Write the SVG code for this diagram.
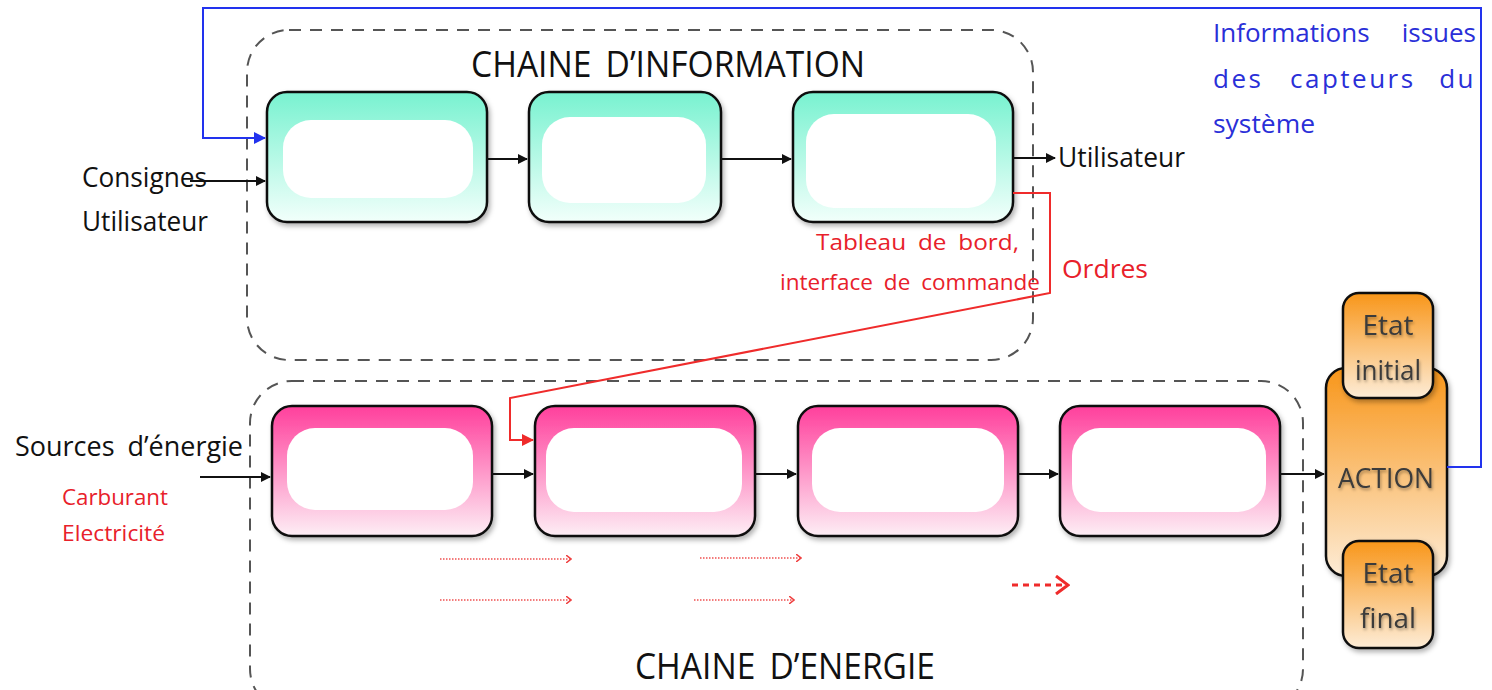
<svg xmlns="http://www.w3.org/2000/svg" width="1492" height="690" viewBox="0 0 1492 690">
  <style>
    text { font-family: "Open Sans", "Noto Sans", "DejaVu Sans", sans-serif; }
    .lbl { fill: #111; font-size: 27px; }
    .red { fill: #e8202a; }
    .blue { fill: #2a2fd8; font-size: 26px; }
    .title { fill: #111; font-size: 37px; word-spacing: 6px; }
    .frame { fill: none; stroke: #555; stroke-width: 2; stroke-dasharray: 12 9; }
    .box { stroke: #111; stroke-width: 2.5; }
    .inner { fill: #fff; }
    .link { fill: none; stroke: #111; stroke-width: 2; }
    .state { fill: #3a3a3a; font-size: 28px; text-anchor: middle; }
  </style>
  <defs>
    <linearGradient id="gInfo" x1="0" y1="0" x2="0" y2="1">
      <stop offset="0" stop-color="#78f2d0"/>
      <stop offset="1" stop-color="#f2fffb"/>
    </linearGradient>
    <linearGradient id="gEnergy" x1="0" y1="0" x2="0" y2="1">
      <stop offset="0" stop-color="#ff3f9c"/>
      <stop offset="1" stop-color="#fdeef5"/>
    </linearGradient>
    <linearGradient id="gAction" x1="0" y1="0" x2="0" y2="1">
      <stop offset="0" stop-color="#f8961a"/>
      <stop offset="1" stop-color="#fdecd6"/>
    </linearGradient>
    <filter id="shadow" x="-10%" y="-10%" width="130%" height="130%">
      <feDropShadow dx="2" dy="3" stdDeviation="2.5" flood-color="#000" flood-opacity="0.3"/>
    </filter>
    <filter id="tshadow" x="-10%" y="-20%" width="130%" height="150%">
      <feDropShadow dx="1" dy="2" stdDeviation="1.5" flood-color="#000" flood-opacity="0.35"/>
    </filter>
    <marker id="arrK" markerWidth="10" markerHeight="10" refX="9" refY="5" orient="auto" markerUnits="userSpaceOnUse">
      <path d="M0,0 L10,5 L0,10 z" fill="#111"/>
    </marker>
    <marker id="arrB" markerWidth="12" markerHeight="12" refX="11" refY="6" orient="auto" markerUnits="userSpaceOnUse">
      <path d="M0,0 L12,6 L0,12 z" fill="#2233ee"/>
    </marker>
    <marker id="arrR" markerWidth="12" markerHeight="12" refX="11" refY="6" orient="auto" markerUnits="userSpaceOnUse">
      <path d="M0,0 L12,6 L0,12 z" fill="#ef2b2b"/>
    </marker>
    <marker id="arrRs" markerWidth="6" markerHeight="8" refX="5" refY="4" orient="auto" markerUnits="userSpaceOnUse">
      <path d="M0,0 L5,4 L0,8" fill="none" stroke="#ef4040" stroke-width="1.5"/>
    </marker>
    <marker id="arrRb" markerWidth="16" markerHeight="20" refX="14" refY="10" orient="auto" markerUnits="userSpaceOnUse">
      <path d="M2,1 L14,10 L2,19" fill="none" stroke="#ef2b2b" stroke-width="3"/>
    </marker>
  </defs>

  <rect width="1492" height="690" fill="#fff"/>

  <!-- dashed chain frames -->
  <g id="info-chain-frame">
    <rect class="frame" x="247" y="30" width="786" height="330" rx="42"/>
    <text class="title" x="668" y="77" text-anchor="middle" textLength="394" lengthAdjust="spacingAndGlyphs">CHAINE D’INFORMATION</text>
  </g>
  <g id="energy-chain-frame">
    <rect class="frame" x="250" y="381" width="1053" height="330" rx="42"/>
    <text class="title" x="785" y="679" text-anchor="middle" textLength="300" lengthAdjust="spacingAndGlyphs">CHAINE D’ENERGIE</text>
  </g>

  <!-- information chain blocks -->
  <g id="info-1" filter="url(#shadow)">
    <rect class="box" x="267" y="92" width="220" height="130" rx="20" fill="url(#gInfo)"/>
    <rect class="inner" x="283" y="120" width="190" height="78" rx="28"/>
  </g>
  <g id="info-2" filter="url(#shadow)">
    <rect class="box" x="529" y="92" width="192" height="130" rx="20" fill="url(#gInfo)"/>
    <rect class="inner" x="542" y="117" width="164" height="86" rx="28"/>
  </g>
  <g id="info-3" filter="url(#shadow)">
    <rect class="box" x="793" y="92" width="220" height="130" rx="20" fill="url(#gInfo)"/>
    <rect class="inner" x="806" y="114" width="190" height="94" rx="28"/>
  </g>

  <!-- energy chain blocks -->
  <g id="energy-1" filter="url(#shadow)">
    <rect class="box" x="272" y="406" width="220" height="130" rx="20" fill="url(#gEnergy)"/>
    <rect class="inner" x="287" y="428" width="186" height="82" rx="28"/>
  </g>
  <g id="energy-2" filter="url(#shadow)">
    <rect class="box" x="535" y="406" width="220" height="130" rx="20" fill="url(#gEnergy)"/>
    <rect class="inner" x="546" y="428" width="196" height="84" rx="28"/>
  </g>
  <g id="energy-3" filter="url(#shadow)">
    <rect class="box" x="798" y="406" width="220" height="130" rx="20" fill="url(#gEnergy)"/>
    <rect class="inner" x="812" y="428" width="192" height="84" rx="28"/>
  </g>
  <g id="energy-4" filter="url(#shadow)">
    <rect class="box" x="1060" y="406" width="220" height="130" rx="20" fill="url(#gEnergy)"/>
    <rect class="inner" x="1072" y="428" width="194" height="84" rx="28"/>
  </g>

  <!-- action block with its initial and final states -->
  <g id="action">
    <rect class="box" x="1326" y="368" width="121" height="208" rx="20" fill="url(#gAction)" filter="url(#shadow)"/>
    <text class="state" x="1386" y="488" font-size="30" filter="url(#tshadow)" textLength="96" lengthAdjust="spacingAndGlyphs">ACTION</text>
  </g>
  <g id="etat-initial">
    <rect class="box" x="1343" y="293" width="90" height="105" rx="16" fill="url(#gAction)" filter="url(#shadow)"/>
    <text class="state" x="1388" y="335" filter="url(#tshadow)">Etat</text>
    <text class="state" x="1388" y="380" filter="url(#tshadow)" textLength="66" lengthAdjust="spacingAndGlyphs">initial</text>
  </g>
  <g id="etat-final">
    <rect class="box" x="1343" y="541" width="90" height="107" rx="16" fill="url(#gAction)" filter="url(#shadow)"/>
    <text class="state" x="1388" y="583" filter="url(#tshadow)">Etat</text>
    <text class="state" x="1388" y="628" filter="url(#tshadow)" textLength="56" lengthAdjust="spacingAndGlyphs">final</text>
  </g>

  <!-- connectors -->
  <g id="connectors">
    <path class="link" d="M190,181 H265" marker-end="url(#arrK)"/>
    <path class="link" d="M487,159 H527" marker-end="url(#arrK)"/>
    <path class="link" d="M721,159 H791" marker-end="url(#arrK)"/>
    <path class="link" d="M1013,158 H1055" marker-end="url(#arrK)"/>
    <path class="link" d="M200,477 H270" marker-end="url(#arrK)"/>
    <path class="link" d="M492,474 H533" marker-end="url(#arrK)"/>
    <path class="link" d="M755,474 H796" marker-end="url(#arrK)"/>
    <path class="link" d="M1018,474 H1058" marker-end="url(#arrK)"/>
    <path class="link" d="M1280,474 H1324" marker-end="url(#arrK)"/>
    <!-- sensor feedback loop -->
    <path d="M1447,467 H1481 V8 H203 V138 H265" fill="none" stroke="#2233ee" stroke-width="2" marker-end="url(#arrB)"/>
    <!-- orders from the information chain to the energy chain -->
    <path d="M1013,193 H1050 V293 L510,398 V440 H533" fill="none" stroke="#ef2b2b" stroke-width="2" marker-end="url(#arrR)"/>
    <!-- energy flow hints -->
    <g fill="none" stroke="#ef5050" stroke-width="1.3" stroke-dasharray="1.5 1.5">
      <path d="M440,559 H571" marker-end="url(#arrRs)"/>
      <path d="M700,558 H801" marker-end="url(#arrRs)"/>
      <path d="M440,600 H571" marker-end="url(#arrRs)"/>
      <path d="M694,600 H794" marker-end="url(#arrRs)"/>
    </g>
    <path d="M1012,585 H1068" fill="none" stroke="#ef2b2b" stroke-width="3" stroke-dasharray="6 5" marker-end="url(#arrRb)"/>
  </g>

  <!-- labels -->
  <g id="labels">
    <text class="lbl" x="82" y="187" textLength="125" lengthAdjust="spacingAndGlyphs">Consignes</text>
    <text class="lbl" x="82" y="231" textLength="126" lengthAdjust="spacingAndGlyphs">Utilisateur</text>
    <text class="lbl" x="1058" y="167" textLength="127" lengthAdjust="spacingAndGlyphs">Utilisateur</text>
    <text class="lbl" x="15" y="456" word-spacing="6" textLength="228" lengthAdjust="spacingAndGlyphs">Sources d’énergie</text>
    <text class="red" x="62" y="505" font-size="22" textLength="106" lengthAdjust="spacingAndGlyphs">Carburant</text>
    <text class="red" x="62" y="541" font-size="22" textLength="103" lengthAdjust="spacingAndGlyphs">Electricité</text>
    <text class="red" x="1019" y="250" font-size="22" text-anchor="end" word-spacing="5" textLength="203" lengthAdjust="spacingAndGlyphs">Tableau de bord,</text>
    <text class="red" x="780" y="290" font-size="22" word-spacing="5" textLength="260" lengthAdjust="spacingAndGlyphs">interface de commande</text>
    <text class="red" x="1062" y="278" font-size="26" textLength="86" lengthAdjust="spacingAndGlyphs">Ordres</text>
    <text class="blue" x="1213" y="42">Informations</text>
    <text class="blue" x="1476" y="42" text-anchor="end">issues</text>
    <text class="blue" x="1213" y="88" letter-spacing="2.5">des</text>
    <text class="blue" x="1290" y="88" letter-spacing="2.5">capteurs</text>
    <text class="blue" x="1476" y="88" text-anchor="end" letter-spacing="2.5">du</text>
    <text class="blue" x="1213" y="133" textLength="102" lengthAdjust="spacingAndGlyphs">système</text>
  </g>
</svg>
